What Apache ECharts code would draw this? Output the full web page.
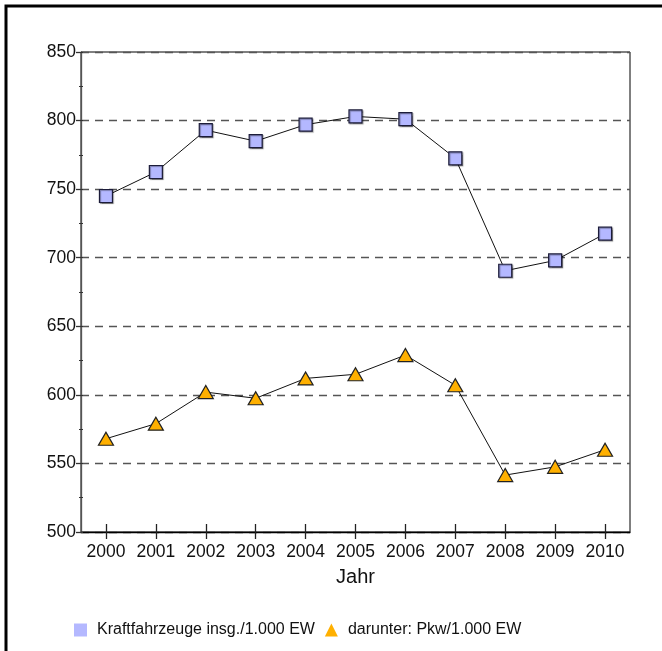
<!DOCTYPE html>
<html>
<head>
<meta charset="utf-8">
<script src="https://cdn.jsdelivr.net/npm/echarts@6/dist/echarts.min.js"></script>
<style>
html,body{margin:0;padding:0;background:#fff;}
#chart{width:662px;height:651px;}
</style>
</head>
<body>
<div id="chart"></div>
<script>
var years = ['2000','2001','2002','2003','2004','2005','2006','2007','2008','2009','2010'];
var kfz = [745, 762.5, 793, 785, 797, 803, 801, 772.5, 690.5, 698, 717.5];
var pkw = [568, 579, 602, 597.5, 612, 615, 629, 607, 541.5, 547.5, 560];
var seriesNames = ['Kraftfahrzeuge insg./1.000 EW', 'darunter: Pkw/1.000 EW'];
var xName = 'Jahr';

var FONT = '"Liberation Sans", Arial, sans-serif';
var chart = echarts.init(document.getElementById('chart'), null, {renderer:'canvas'});
chart.setOption({
  animation: false,
  backgroundColor: '#fff',
  textStyle: {fontFamily: FONT},
  graphic: [{
    type: 'rect', silent: true, z: 100,
    shape: {x: 6, y: 6, width: 800, height: 800},
    style: {fill: 'none', stroke: '#000', lineWidth: 3}
  }],
  grid: {left: 81, right: 32, top: 52, bottom: 119, show: true, borderColor: '#000', borderWidth: 1, backgroundColor: 'transparent'},
  legend: {
    bottom: 8, left: 69,
    itemWidth: 13, itemHeight: 13, itemGap: 10,
    textStyle: {fontFamily: FONT, fontSize: 16, color: '#111', padding: [0,0,0,5]},
    data: [
      {name: seriesNames[0], icon: 'rect', itemStyle: {color: '#b4b8ff', borderWidth: 0, shadowBlur: 0}},
      {name: seriesNames[1], icon: 'triangle', itemStyle: {color: '#ffb000', borderWidth: 0, shadowBlur: 0}}
    ]
  },
  xAxis: [{
    type: 'category', data: years, boundaryGap: true,
    name: xName, nameLocation: 'middle', nameGap: 35,
    nameTextStyle: {fontFamily: FONT, fontSize: 20, color: '#111'},
    axisLine: {show: true, lineStyle: {color: '#000', width: 1.3}},
    axisTick: {show: true, alignWithLabel: true, inside: false, length: 7, lineStyle: {color: '#222', width: 1.3}},
    axisLabel: {fontFamily: FONT, fontSize: 17.5, color: '#111', margin: 11, interval: 0},
    splitLine: {show: false}
  }, {
    type: 'category', data: years, boundaryGap: true, position: 'bottom',
    axisLine: {show: false},
    axisTick: {show: true, alignWithLabel: true, inside: true, length: 8, interval: 0, lineStyle: {color: '#222', width: 1.3}},
    axisLabel: {show: false, interval: 0}, splitLine: {show: false}
  }],
  yAxis: [{
    type: 'value', min: 500, max: 850, interval: 50,
    axisLine: {show: true, lineStyle: {color: '#555', width: 1.3}},
    axisTick: {show: true, length: 5, lineStyle: {color: '#333', width: 1.3}},
    minorTick: {show: true, splitNumber: 2, length: 2, lineStyle: {color: '#333', width: 1.2}},
    axisLabel: {fontFamily: FONT, fontSize: 17.5, color: '#111', margin: 5},
    splitLine: {show: true, lineStyle: {color: '#555', width: 1.3, type: [8, 6]}}
  }, {
    type: 'value', min: 500, max: 850, interval: 25, position: 'left',
    axisLine: {show: false},
    axisTick: {show: true, inside: true, length: 2, lineStyle: {color: '#333', width: 1.2}},
    axisLabel: {show: false}, splitLine: {show: false}
  }],
  series: [{
    name: seriesNames[0], type: 'line', data: kfz,
    symbol: 'rect', symbolSize: 13,
    lineStyle: {color: '#111', width: 1},
    itemStyle: {color: '#b4b8ff', borderColor: '#1c1c3a', borderWidth: 1.2, shadowColor: 'rgba(0,0,0,0.35)', shadowOffsetX: 1, shadowOffsetY: 1, shadowBlur: 1},
    z: 3
  }, {
    name: seriesNames[1], type: 'line', data: pkw,
    symbol: 'triangle', symbolSize: [15, 13],
    lineStyle: {color: '#111', width: 1},
    itemStyle: {color: '#ffb000', borderColor: '#222', borderWidth: 1.2},
    z: 3
  }]
});
</script>
</body>
</html>
